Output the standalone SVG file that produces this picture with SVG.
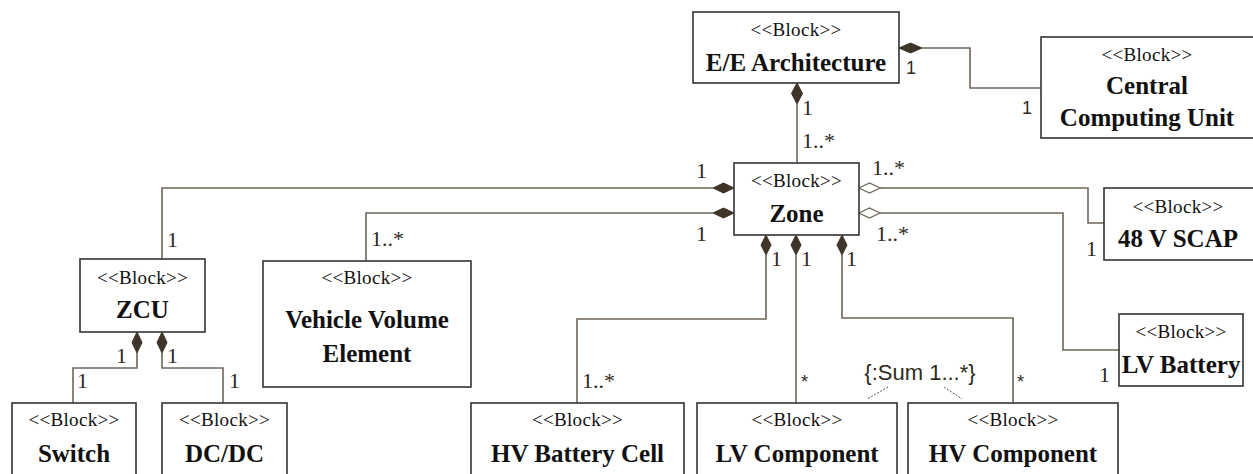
<svg xmlns="http://www.w3.org/2000/svg" width="1253" height="474" viewBox="0 0 1253 474">
<style>
.box{fill:#fff;stroke:#333;stroke-width:1.6}
.st{font-family:"Liberation Serif",serif;font-size:19px;fill:#111;text-anchor:middle;letter-spacing:0.3px}
.nm{font-family:"Liberation Serif",serif;font-size:25px;font-weight:bold;fill:#111;text-anchor:middle}
.ln{fill:none;stroke:#6e665a;stroke-width:1.6}
.fd{fill:#3e3528;stroke:#3e3528;stroke-width:1}
.od{fill:#fff;stroke:#6e665a;stroke-width:1.2}
.m{font-family:"Liberation Serif",serif;font-size:22px;fill:#2e2a22}
.ms{font-family:"Liberation Sans",sans-serif;font-size:18px;fill:#2e2a22}
.dot{fill:none;stroke:#555;stroke-width:1;stroke-dasharray:2 1.5}
</style>
<g id="connectors">
<path class="ln" d="M922 48 H970 V88 H1041"/>
<polygon class="fd" points="899,48 910.5,43 922,48 910.5,53"/>
<path class="ln" d="M797 104 V163"/>
<polygon class="fd" points="797,83 802.5,93.5 797,104 791.5,93.5"/>
<path class="ln" d="M713 188 H162 V259"/>
<polygon class="fd" points="734,188 723.5,183 713,188 723.5,193"/>
<path class="ln" d="M713 213 H366 V261"/>
<polygon class="fd" points="734,213 723.5,208 713,213 723.5,218"/>
<path class="ln" d="M880 188 H1088 V223 H1104"/>
<polygon class="od" points="859,188 869.5,183 880,188 869.5,193"/>
<path class="ln" d="M880 213 H1063 V350 H1119"/>
<polygon class="od" points="859,213 869.5,208 880,213 869.5,218"/>
<path class="ln" d="M766 255 V319 H577 V403"/>
<polygon class="fd" points="766,235 771,245 766,255 761,245"/>
<path class="ln" d="M796 255 V403"/>
<polygon class="fd" points="796,235 801,245 796,255 791,245"/>
<path class="ln" d="M842 255 V318 H1013 V403"/>
<polygon class="fd" points="842,235 847,245 842,255 837,245"/>
<path class="ln" d="M137 353 V368 H73 V403"/>
<polygon class="fd" points="137,332 142,342.5 137,353 132,342.5"/>
<path class="ln" d="M162 353 V368 H223 V403"/>
<polygon class="fd" points="162,332 167,342.5 162,353 157,342.5"/>
<line class="dot" x1="888" y1="387" x2="867" y2="399"/>
<line class="dot" x1="944" y1="387" x2="962" y2="399"/>
<text class="ms" x="906" y="74">1</text>
<text class="ms" x="1022" y="114">1</text>
<text class="m" x="802" y="115">1</text>
<text class="m" x="802" y="148">1..*</text>
<text class="m" x="696" y="178">1</text>
<text class="m" x="696" y="241">1</text>
<text class="m" x="872" y="175">1..*</text>
<text class="m" x="876" y="241">1..*</text>
<text class="m" x="771" y="266">1</text>
<text class="m" x="801" y="266">1</text>
<text class="m" x="846" y="266">1</text>
<text class="m" x="167" y="247">1</text>
<text class="m" x="371" y="246">1..*</text>
<text class="m" x="1086" y="256">1</text>
<text class="m" x="1099" y="382">1</text>
<text class="m" x="582" y="388">1..*</text>
<text class="ms" x="801" y="388">*</text>
<text class="ms" x="1017" y="388">*</text>
<text class="ms" x="920" y="380" text-anchor="middle" style="font-size:22px">{:Sum 1...*}</text>
<text class="m" x="116" y="363">1</text>
<text class="m" x="167" y="363">1</text>
<text class="m" x="77" y="388">1</text>
<text class="m" x="229" y="388">1</text>
</g>
<g id="ee-architecture">
<rect class="box" x="693" y="12" width="206" height="71"/>
<text class="st" x="796" y="36">&lt;&lt;Block&gt;&gt;</text>
<text class="nm" x="796" y="71">E/E Architecture</text>
</g>
<g id="central-computing-unit">
<rect class="box" x="1041" y="37" width="220" height="101"/>
<text class="st" x="1147" y="61">&lt;&lt;Block&gt;&gt;</text>
<text class="nm" x="1147" y="94">Central</text>
<text class="nm" x="1147" y="126">Computing Unit</text>
</g>
<g id="zone">
<rect class="box" x="734" y="163" width="125" height="72"/>
<text class="st" x="796.5" y="187">&lt;&lt;Block&gt;&gt;</text>
<text class="nm" x="796.5" y="222">Zone</text>
</g>
<g id="scap-48v">
<rect class="box" x="1104" y="188" width="160" height="72"/>
<text class="st" x="1178" y="213">&lt;&lt;Block&gt;&gt;</text>
<text class="nm" x="1178" y="247">48 V SCAP</text>
</g>
<g id="lv-battery">
<rect class="box" x="1119" y="314" width="124" height="72"/>
<text class="st" x="1181" y="338">&lt;&lt;Block&gt;&gt;</text>
<text class="nm" x="1181" y="373">LV Battery</text>
</g>
<g id="zcu">
<rect class="box" x="80" y="259" width="125" height="73"/>
<text class="st" x="142.5" y="284">&lt;&lt;Block&gt;&gt;</text>
<text class="nm" x="142.5" y="318">ZCU</text>
</g>
<g id="vehicle-volume-element">
<rect class="box" x="263" y="261" width="208" height="126"/>
<text class="st" x="367" y="284">&lt;&lt;Block&gt;&gt;</text>
<text class="nm" x="367" y="328">Vehicle Volume</text>
<text class="nm" x="367" y="362">Element</text>
</g>
<g id="switch">
<rect class="box" x="12" y="403" width="124" height="80"/>
<text class="st" x="74" y="426">&lt;&lt;Block&gt;&gt;</text>
<text class="nm" x="74" y="462">Switch</text>
</g>
<g id="dc-dc">
<rect class="box" x="162" y="403" width="125" height="80"/>
<text class="st" x="224.5" y="426">&lt;&lt;Block&gt;&gt;</text>
<text class="nm" x="224.5" y="462">DC/DC</text>
</g>
<g id="hv-battery-cell">
<rect class="box" x="471" y="403" width="213" height="80"/>
<text class="st" x="577.5" y="426">&lt;&lt;Block&gt;&gt;</text>
<text class="nm" x="577.5" y="462">HV Battery Cell</text>
</g>
<g id="lv-component">
<rect class="box" x="697" y="403" width="200" height="80"/>
<text class="st" x="797" y="426">&lt;&lt;Block&gt;&gt;</text>
<text class="nm" x="797" y="462">LV Component</text>
</g>
<g id="hv-component">
<rect class="box" x="908" y="403" width="210" height="80"/>
<text class="st" x="1013" y="426">&lt;&lt;Block&gt;&gt;</text>
<text class="nm" x="1013" y="462">HV Component</text>
</g>
</svg>
